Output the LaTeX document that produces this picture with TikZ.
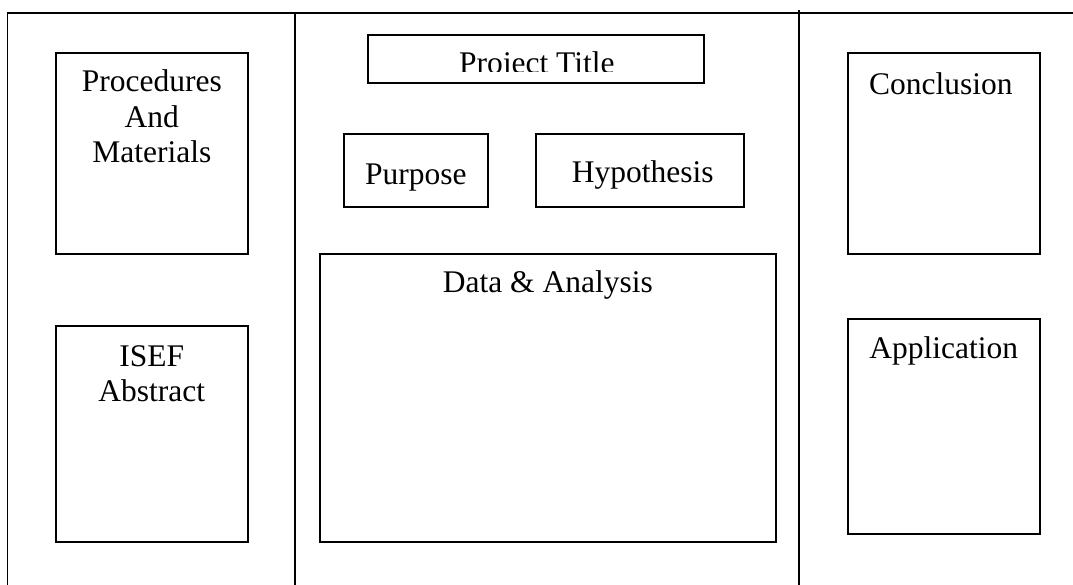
\documentclass[tikz,border=0pt]{standalone}
\usepackage{fontspec}
\setmainfont{Liberation Serif}
\usetikzlibrary{calc}
\tikzset{
  frameline/.style={line width=1.6pt, black},
  box/.style={draw=black, line width=1.6pt, inner sep=0pt, anchor=north west},
  lbl/.style={font=\fontsize{31.5}{35.5}\selectfont, inner sep=0pt, align=center, anchor=base}
}
\begin{document}
\begin{tikzpicture}[x=1pt,y=-1pt]
\useasboundingbox (0,0) rectangle (1073,585);
% frame
\coordinate (tl) at (7.5,13);
\coordinate (bl) at (7.5,585);
\coordinate (tr) at (1073,13);
\coordinate (d1t) at (295,13);
\coordinate (d1b) at (295,585);
\coordinate (d2t) at (799,10);
\coordinate (d2b) at (799,585);
\draw[frameline] (bl) -- (tl) -- (tr);
\draw[frameline] (d1t) -- (d1b);
\draw[frameline] (d2t) -- (d2b);
% left panel (base anchor = baseline of the last line)
\node[box, minimum width=192pt, minimum height=201pt] (proc) at (55,52) {};
\node[lbl] (proct) at ($(proc.north)+(0,111)$) {Procedures\\And\\Materials};
\node[box, minimum width=192pt, minimum height=216pt] (isef) at (55,325) {};
\node[lbl] (iseft) at ($(isef.north)+(0,76.5)$) {ISEF\\Abstract};
% centre panel
\node[box, minimum width=336pt, minimum height=48pt] (title) at (367,34) {};
\begin{scope}
  \clip (367,34) rectangle (703,71.5);
  \node[lbl] (titlet) at ($(title.north)+(1,40)$) {Project Title};
\end{scope}
\node[box, minimum width=144pt, minimum height=73pt] (purp) at (343,133) {};
\node[lbl] (purpt) at ($(purp.north)+(0,52)$) {Purpose};
\node[box, minimum width=208pt, minimum height=73pt] (hyp) at (535,133) {};
\node[lbl] (hypt) at ($(hyp.north)+(3,50)$) {Hypothesis};
\node[box, minimum width=456pt, minimum height=288pt] (data) at (319,253) {};
\node[lbl] (datat) at ($(data.north)+(0,40)$) {Data \& Analysis};
% right panel
\node[box, minimum width=192pt, minimum height=201pt] (conc) at (847,52) {};
\node[lbl] (conct) at ($(conc.north)+(-3,43)$) {Conclusion};
\node[box, minimum width=192pt, minimum height=215pt] (app) at (847,318) {};
\node[lbl] (appt) at ($(app.north)+(0,40)$) {Application};
\end{tikzpicture}
\end{document}
